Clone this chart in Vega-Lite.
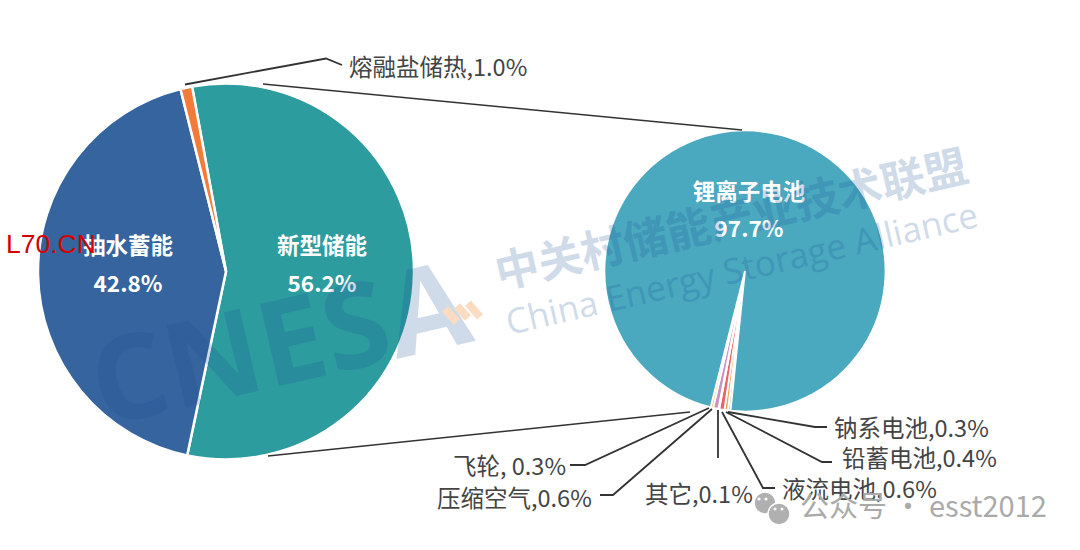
{
  "$schema": "https://vega.github.io/schema/vega-lite/v6.json",
  "width": 1080,
  "height": 550,
  "padding": 0,
  "autosize": "none",
  "background": "white",
  "config": {"view": {"stroke": null}},
  "encoding": {
    "x": {"field": "x", "type": "quantitative", "scale": {"domain": [0, 108]}, "axis": null},
    "y": {"field": "y", "type": "quantitative", "scale": {"domain": [0, 55], "reverse": true}, "axis": null}
  },
  "resolve": {"scale": {"theta": "independent", "color": "independent"}},
  "layer": [
    {
      "data": {"values": [
        {"name": "新型储能", "share": 56.2, "rank": 1, "x": 22.6, "y": 27.15},
        {"name": "抽水蓄能", "share": 42.8, "rank": 2, "x": 22.6, "y": 27.15},
        {"name": "熔融盐储热", "share": 1.0, "rank": 3, "x": 22.6, "y": 27.15}
      ]},
      "transform": [{"stack": "share", "sort": [{"field": "rank"}], "as": ["from", "to"]}],
      "mark": {"type": "arc", "outerRadius": 188, "stroke": "white", "strokeWidth": 2.5},
      "encoding": {
        "theta": {"field": "from", "type": "quantitative", "stack": null, "scale": {"domain": [0, 100], "range": [-0.1815, 6.1017]}},
        "theta2": {"field": "to"},
        "color": {"field": "name", "type": "nominal", "legend": null, "scale": {
          "domain": ["新型储能", "抽水蓄能", "熔融盐储热"],
          "range": ["#2d9c9e", "#36649e", "#f47a3a"]
        }}
      }
    },
    {
      "data": {"values": [
        {"name": "钠系电池", "share": 0.3, "rank": 1, "x": 74.5, "y": 27.1},
        {"name": "铅蓄电池", "share": 0.4, "rank": 2, "x": 74.5, "y": 27.1},
        {"name": "液流电池", "share": 0.6, "rank": 3, "x": 74.5, "y": 27.1},
        {"name": "其它", "share": 0.1, "rank": 4, "x": 74.5, "y": 27.1},
        {"name": "压缩空气", "share": 0.6, "rank": 5, "x": 74.5, "y": 27.1},
        {"name": "飞轮", "share": 0.3, "rank": 6, "x": 74.5, "y": 27.1},
        {"name": "锂离子电池", "share": 97.7, "rank": 7, "x": 74.5, "y": 27.1}
      ]},
      "transform": [{"stack": "share", "sort": [{"field": "rank"}], "as": ["from", "to"]}],
      "mark": {"type": "arc", "outerRadius": 140.5, "stroke": "white", "strokeWidth": 1.8},
      "encoding": {
        "theta": {"field": "from", "type": "quantitative", "stack": null, "scale": {"domain": [0, 100], "range": [3.2446, 9.5278]}},
        "theta2": {"field": "to"},
        "color": {"field": "name", "type": "nominal", "legend": null, "scale": {
          "domain": ["钠系电池", "铅蓄电池", "液流电池", "其它", "压缩空气", "飞轮", "锂离子电池"],
          "range": ["#a5c98f", "#f2a65a", "#e8636a", "#f4d9d0", "#c992c4", "#efc05c", "#4aa8bf"]
        }}
      }
    },
    {
      "data": {"values": [
        {"line": "熔融盐", "step": 1, "x": 18.5, "y": 8.45},
        {"line": "熔融盐", "step": 2, "x": 32.6, "y": 5.85},
        {"line": "熔融盐", "step": 3, "x": 34.2, "y": 6.5},
        {"line": "飞轮", "step": 1, "x": 57.0, "y": 46.5},
        {"line": "飞轮", "step": 2, "x": 58.5, "y": 46.5},
        {"line": "飞轮", "step": 3, "x": 70.9, "y": 40.8},
        {"line": "压缩空气", "step": 1, "x": 60.0, "y": 49.5},
        {"line": "压缩空气", "step": 2, "x": 61.3, "y": 49.5},
        {"line": "压缩空气", "step": 3, "x": 71.2, "y": 40.9},
        {"line": "其它", "step": 1, "x": 71.8, "y": 45.8},
        {"line": "其它", "step": 2, "x": 71.8, "y": 41.0},
        {"line": "液流", "step": 1, "x": 72.2, "y": 41.2},
        {"line": "液流", "step": 2, "x": 76.3, "y": 48.8},
        {"line": "液流", "step": 3, "x": 77.5, "y": 48.8},
        {"line": "铅蓄", "step": 1, "x": 72.6, "y": 41.2},
        {"line": "铅蓄", "step": 2, "x": 82.2, "y": 46.2},
        {"line": "铅蓄", "step": 3, "x": 83.2, "y": 46.2},
        {"line": "钠系", "step": 1, "x": 72.8, "y": 41.2},
        {"line": "钠系", "step": 2, "x": 81.5, "y": 42.7},
        {"line": "钠系", "step": 3, "x": 82.7, "y": 42.7}
      ]},
      "mark": {"type": "line", "color": "#333333", "strokeWidth": 1.8, "interpolate": "linear"},
      "encoding": {
        "detail": {"field": "line", "type": "nominal"},
        "order": {"field": "step", "type": "quantitative"}
      }
    },
    {
      "data": {"values": [
        {"line": "上", "step": 1, "x": 26.3, "y": 8.4},
        {"line": "上", "step": 2, "x": 74.2, "y": 13.0},
        {"line": "下", "step": 1, "x": 26.8, "y": 45.6},
        {"line": "下", "step": 2, "x": 69.0, "y": 41.2}
      ]},
      "mark": {"type": "line", "color": "#333333", "strokeWidth": 1.4},
      "encoding": {
        "detail": {"field": "line", "type": "nominal"},
        "order": {"field": "step", "type": "quantitative"}
      }
    },
    {
      "data": {"values": [
        {"label": "抽水蓄能", "x": 12.8, "y": 24.7},
        {"label": "42.8%", "x": 12.8, "y": 28.5},
        {"label": "新型储能", "x": 32.2, "y": 24.7},
        {"label": "56.2%", "x": 32.2, "y": 28.5},
        {"label": "锂离子电池", "x": 74.9, "y": 19.3},
        {"label": "97.7%", "x": 74.9, "y": 23.0}
      ]},
      "mark": {"type": "text", "font": "Noto Sans CJK SC", "fontWeight": "bold", "fontSize": 22.5, "color": "white", "align": "center", "baseline": "middle"},
      "encoding": {"text": {"field": "label", "type": "nominal"}}
    },
    {
      "data": {"values": [
        {"label": "熔融盐储热,1.0%", "x": 34.9, "y": 6.9},
        {"label": "钠系电池,0.3%", "x": 83.4, "y": 43.0},
        {"label": "铅蓄电池,0.4%", "x": 84.2, "y": 46.0},
        {"label": "液流电池,0.6%", "x": 78.2, "y": 49.1},
        {"label": "其它,0.1%", "x": 64.5, "y": 49.6},
        {"label": "压缩空气,0.6%", "x": 43.7, "y": 50.0},
        {"label": "飞轮, 0.3%", "x": 45.3, "y": 46.8}
      ]},
      "mark": {"type": "text", "font": "Noto Sans CJK SC", "fontSize": 23.5, "color": "#444444", "align": "left", "baseline": "middle"},
      "encoding": {"text": {"field": "label", "type": "nominal"}}
    },
    {
      "data": {"values": [{"label": "CNESA", "x": 10.2, "y": 42.7}]},
      "mark": {"type": "text", "font": "Open Sans", "fontWeight": "bold", "fontSize": 118, "angle": -13, "color": "#195096", "opacity": 0.2, "align": "left", "baseline": "alphabetic"},
      "encoding": {"text": {"field": "label", "type": "nominal"}}
    },
    {
      "data": {"values": [
        {"x": 44.5, "y": 30.9, "x2": 45.7, "y2": 32.2},
        {"x": 45.7, "y": 30.6, "x2": 46.8, "y2": 31.8},
        {"x": 46.8, "y": 30.3, "x2": 48.0, "y2": 31.7}
      ]},
      "mark": {"type": "rule", "color": "#fbdcc0", "strokeWidth": 8},
      "encoding": {
        "x2": {"field": "x2"},
        "y2": {"field": "y2"}
      }
    },
    {
      "data": {"values": [{"label": "中关村储能产业技术联盟", "x": 73.2, "y": 22.2}]},
      "mark": {"type": "text", "font": "Noto Sans CJK SC", "fontWeight": "bold", "fontSize": 44, "angle": -13, "color": "#195096", "opacity": 0.2, "align": "center", "baseline": "middle"},
      "encoding": {"text": {"field": "label", "type": "nominal"}}
    },
    {
      "data": {"values": [{"label": "China Energy Storage Alliance", "x": 74.2, "y": 27.0}]},
      "mark": {"type": "text", "font": "Open Sans", "fontSize": 35, "angle": -13, "color": "#195096", "opacity": 0.2, "align": "center", "baseline": "middle"},
      "encoding": {"text": {"field": "label", "type": "nominal"}}
    },
    {
      "data": {"values": [{"label": "L70.CN", "x": 0.6, "y": 24.5}]},
      "mark": {"type": "text", "font": "Liberation Sans", "fontSize": 26.5, "color": "#d40000", "align": "left", "baseline": "middle"},
      "encoding": {"text": {"field": "label", "type": "nominal"}}
    },
    {
      "data": {"values": [
        {"x": 76.5, "y": 50.3},
        {"x": 77.9, "y": 51.4}
      ]},
      "mark": {"type": "point", "filled": true, "shape": "circle", "size": 480, "color": "#b0b0b0", "opacity": 1, "stroke": "white", "strokeWidth": 1.5}
    },
    {
      "data": {"values": [
        {"x": 75.9, "y": 49.9},
        {"x": 76.6, "y": 49.9},
        {"x": 77.5, "y": 50.9},
        {"x": 78.2, "y": 50.9}
      ]},
      "mark": {"type": "point", "filled": true, "shape": "circle", "size": 10, "color": "white", "opacity": 1}
    },
    {
      "data": {"values": [
        {"label": "公众号 · esst2012", "x": 80.0, "y": 50.8}
      ]},
      "mark": {"type": "text", "font": "Noto Sans CJK SC", "fontSize": 29, "color": "#aaaaaa", "align": "left", "baseline": "middle"},
      "encoding": {"text": {"field": "label", "type": "nominal"}}
    }
  ]
}
